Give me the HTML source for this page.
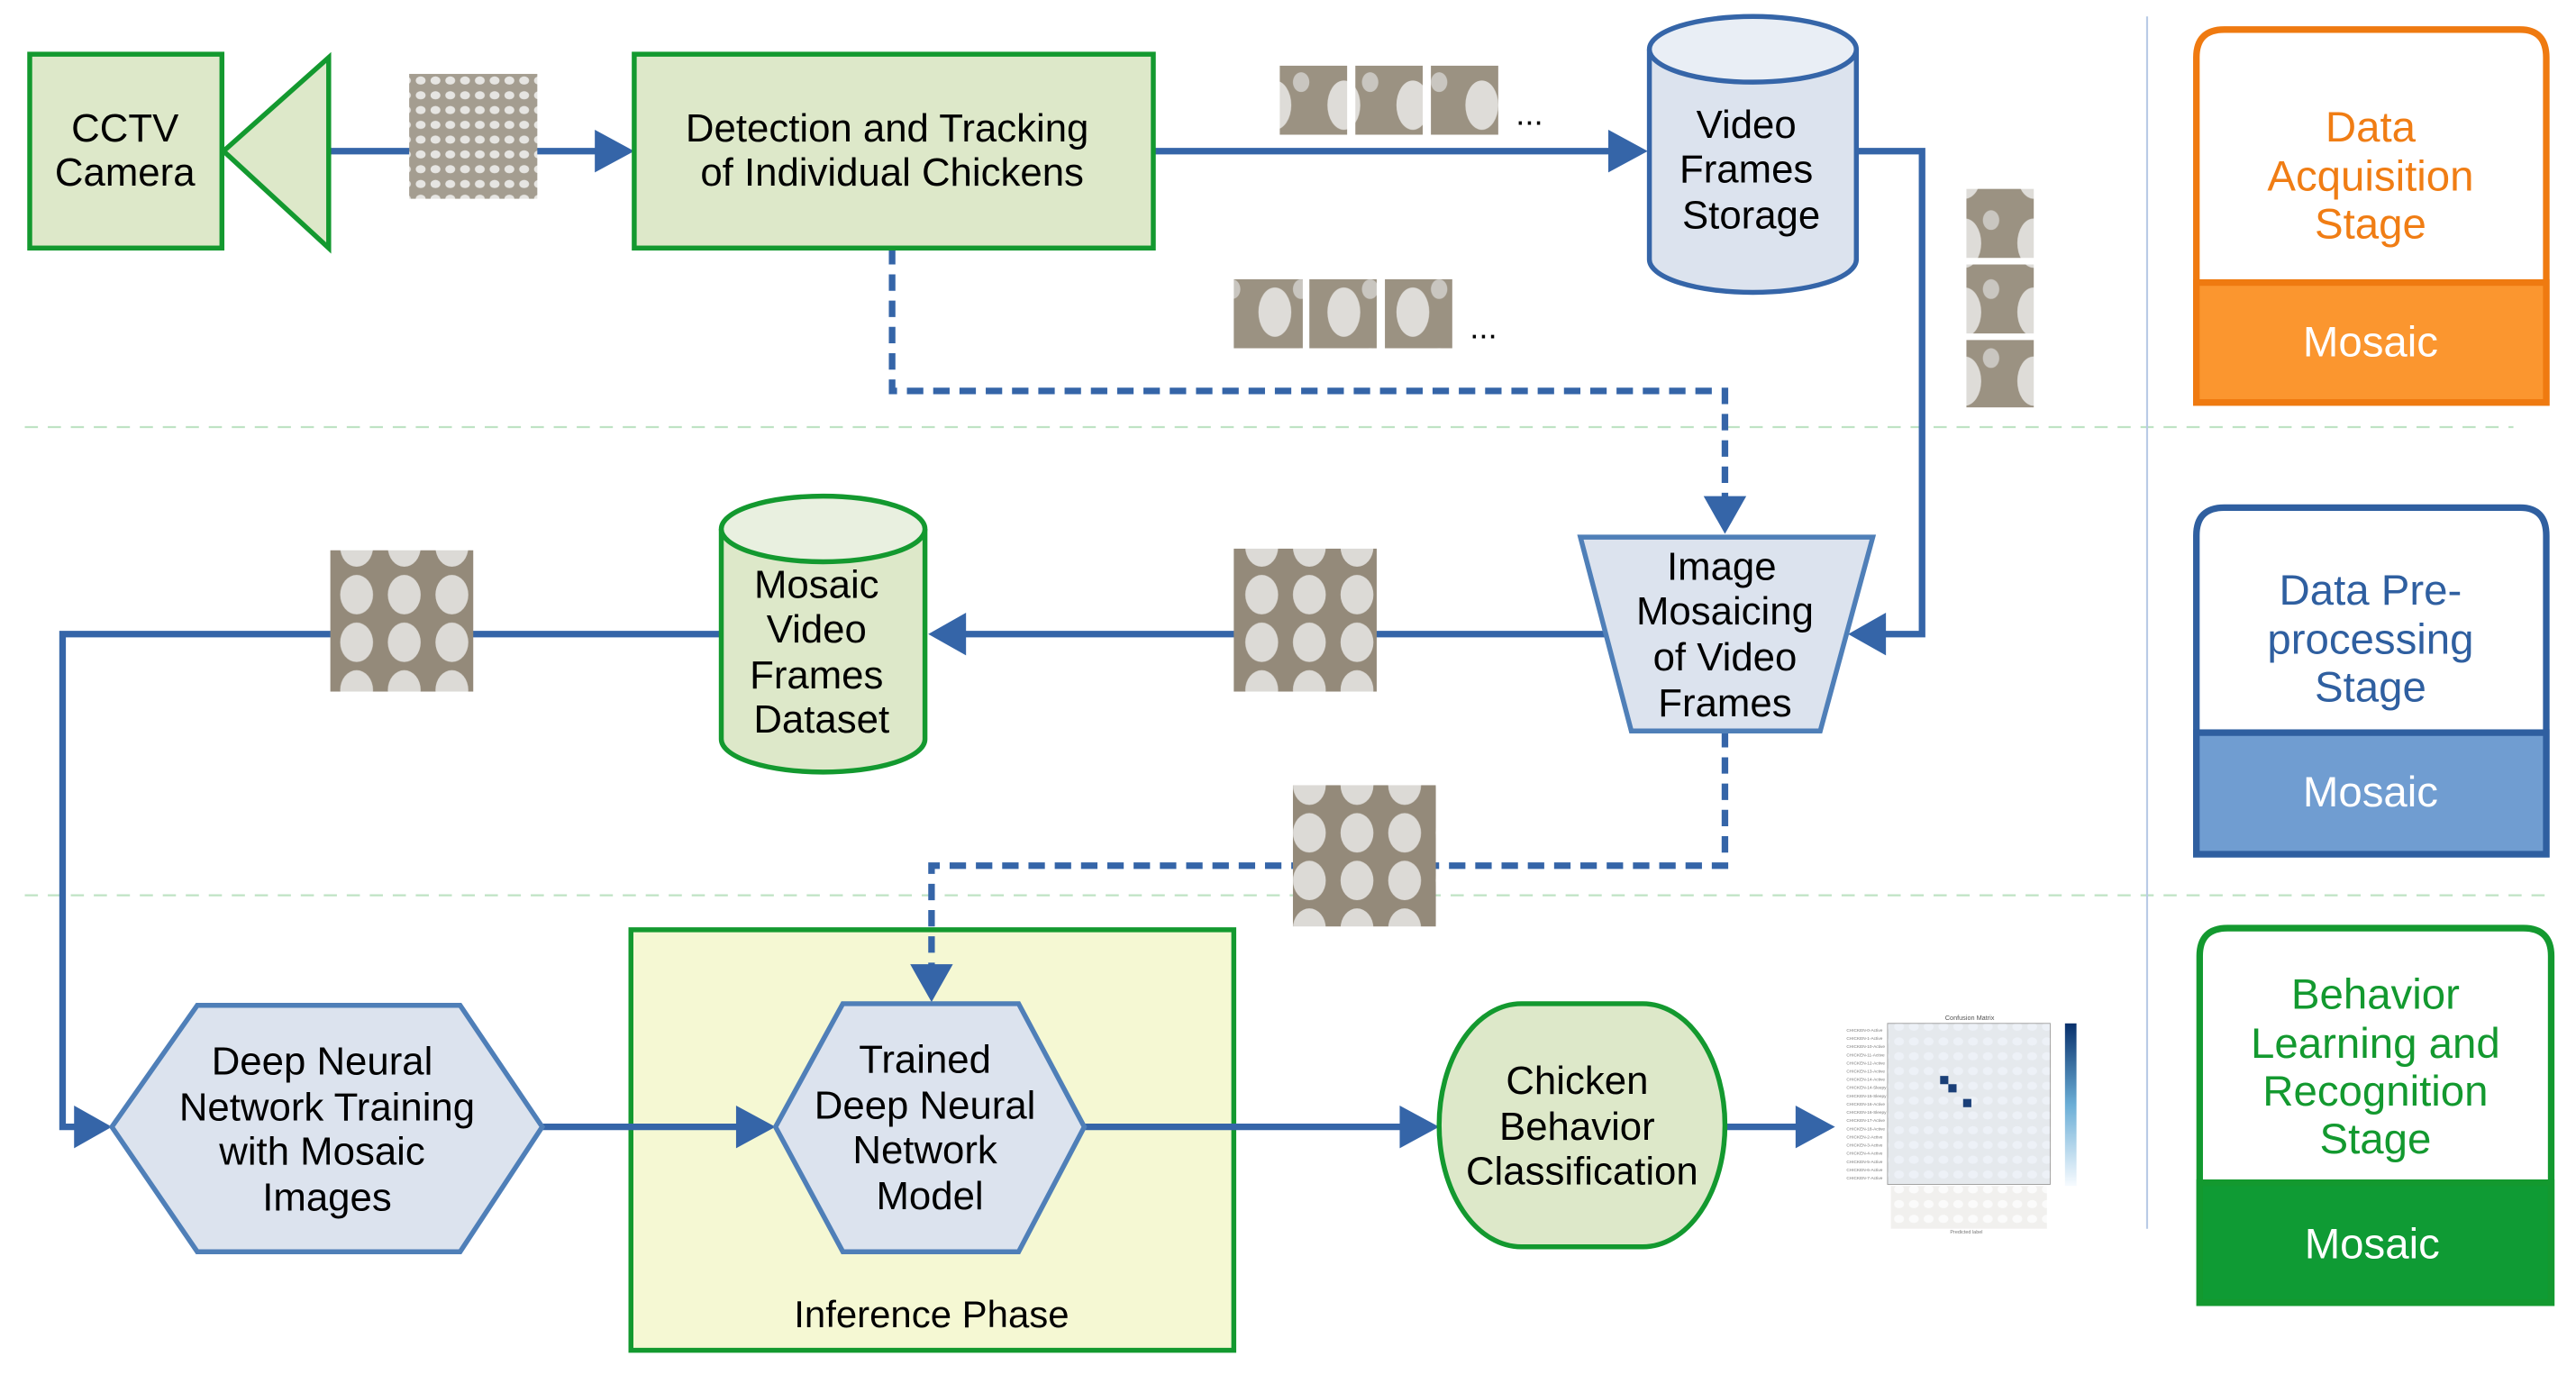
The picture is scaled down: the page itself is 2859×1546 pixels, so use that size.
<!DOCTYPE html>
<html><head><meta charset="utf-8"><style>
html,body{margin:0;padding:0;background:#fff}
svg{display:block}
text{font-family:"Liberation Sans",Arial,sans-serif}
</style></head><body>
<svg width="2859" height="1546" viewBox="0 0 1568 848" xmlns="http://www.w3.org/2000/svg">
<defs>
<pattern id="ph" width="42" height="42" patternUnits="userSpaceOnUse">
<rect width="42" height="42" fill="#9b9282"/>
<ellipse cx="20" cy="22" rx="10" ry="15" fill="#dedcd8"/>
<ellipse cx="36" cy="8" rx="5" ry="6" fill="#c9c6c0"/>
</pattern>
<pattern id="mo" width="29" height="29" patternUnits="userSpaceOnUse">
<rect width="29" height="29" fill="#948a7a"/>
<ellipse cx="14" cy="14" rx="10" ry="12" fill="#dcdad6"/>
</pattern>
<pattern id="ov" width="9" height="9" patternUnits="userSpaceOnUse">
<rect width="9" height="9" fill="#a49d90"/>
<ellipse cx="4" cy="4" rx="3" ry="2.5" fill="#e6e5e2"/>
</pattern>
<linearGradient id="cb" x1="0" y1="1" x2="0" y2="0"><stop offset="0" stop-color="#f7fbff"/><stop offset="0.5" stop-color="#6baed6"/><stop offset="1" stop-color="#08306b"/></linearGradient>
</defs>

<!-- separators -->
<line x1="15" y1="260" x2="1530" y2="260" stroke="#bfe3c4" stroke-width="1.2" stroke-dasharray="8,6"/>
<line x1="15" y1="545" x2="1550" y2="545" stroke="#bfe3c4" stroke-width="1.2" stroke-dasharray="8,6"/>
<line x1="1307" y1="10" x2="1307" y2="748" stroke="#b9cbe6" stroke-width="1.2"/>

<!-- inference phase box -->
<rect x="384" y="566" width="367" height="256" fill="#f5f8d3" stroke="#13992f" stroke-width="3"/>
<text x="567" y="808" font-size="23" text-anchor="middle" fill="#000">Inference Phase</text>

<g fill="none" stroke="#3565a8" stroke-width="4">
<line x1="200" y1="92" x2="368" y2="92"/>
<line x1="702" y1="92" x2="985" y2="92"/>
<polyline points="1131,92 1170,92 1170,386 1143,386"/>
<polyline points="543,151 543,238 1050,238 1050,307" stroke-dasharray="10,6"/>
<line x1="980" y1="386" x2="583" y2="386"/>
<polyline points="439,386 38,386 38,686 50,686"/>
<polyline points="1050,445 1050,527 567,527 567,592" stroke-dasharray="10,6"/>
<line x1="330" y1="686" x2="453" y2="686"/>
<line x1="660" y1="686" x2="857" y2="686"/>
<line x1="1050" y1="686" x2="1098" y2="686"/>
</g>
<g fill="#3565a8">
<polygon points="386,92 362,79 362,105"/>
<polygon points="1003,92 979,79 979,105"/>
<polygon points="1125,386 1148,373 1148,399"/>
<polygon points="1050,325 1037,302 1063,302"/>
<polygon points="565,386 588,373 588,399"/>
<polygon points="68,686 45,673 45,699"/>
<polygon points="567,610 554,587 580,587"/>
<polygon points="472,686 448,673 448,699"/>
<polygon points="876,686 852,673 852,699"/>
<polygon points="1117,686 1093,673 1093,699"/>
</g>

<!-- CCTV -->
<rect x="18" y="33" width="117" height="118" fill="#dde8c9" stroke="#13992f" stroke-width="3"/>
<polygon points="136,92 200,35 200,151" fill="#dde8c9" stroke="#13992f" stroke-width="3"/>
<text x="76" y="86" font-size="24" text-anchor="middle">CCTV</text>
<text x="76" y="113" font-size="24" text-anchor="middle">Camera</text>
<rect x="249" y="45" width="78" height="76" fill="url(#ov)"/>

<!-- detection -->
<rect x="386" y="33" width="316" height="118" fill="#dde8c9" stroke="#13992f" stroke-width="3"/>
<text x="540" y="86" font-size="24" text-anchor="middle">Detection and Tracking</text>
<text x="543" y="113" font-size="24" text-anchor="middle">of Individual Chickens</text>

<!-- small frames -->
<rect x="779" y="40" width="41" height="42" fill="url(#ph)"/>
<rect x="825" y="40" width="41" height="42" fill="url(#ph)"/>
<rect x="871" y="40" width="41" height="42" fill="url(#ph)"/>
<text x="931" y="76" font-size="20" text-anchor="middle">...</text>
<rect x="751" y="170" width="42" height="42" fill="url(#ph)"/>
<rect x="797" y="170" width="41" height="42" fill="url(#ph)"/>
<rect x="843" y="170" width="41" height="42" fill="url(#ph)"/>
<text x="903" y="206" font-size="20" text-anchor="middle">...</text>
<rect x="1197" y="115" width="41" height="42" fill="url(#ph)"/>
<rect x="1197" y="161" width="41" height="42" fill="url(#ph)"/>
<rect x="1197" y="207" width="41" height="41" fill="url(#ph)"/>

<!-- Video frames storage cylinder -->
<path d="M1004,30 L1004,158 A63,20 0 0 0 1130,158 L1130,30" fill="#dce3ee" stroke="#3565a8" stroke-width="3"/>
<ellipse cx="1067" cy="30" rx="63" ry="20" fill="#e9eef5" stroke="#3565a8" stroke-width="3"/>
<text x="1063" y="84" font-size="24" text-anchor="middle">Video</text>
<text x="1063" y="111" font-size="24" text-anchor="middle">Frames</text>
<text x="1066" y="139" font-size="24" text-anchor="middle">Storage</text>

<!-- Image mosaicing trapezoid -->
<polygon points="962,327 1140,327 1108,445 993,445" fill="#dce3ee" stroke="#4f7fb8" stroke-width="3"/>
<text x="1048" y="353" font-size="24" text-anchor="middle">Image</text>
<text x="1050" y="380" font-size="24" text-anchor="middle">Mosaicing</text>
<text x="1050" y="408" font-size="24" text-anchor="middle">of Video</text>
<text x="1050" y="436" font-size="24" text-anchor="middle">Frames</text>

<!-- mosaics -->
<rect x="751" y="334" width="87" height="87" fill="url(#mo)"/>
<rect x="201" y="335" width="87" height="86" fill="url(#mo)"/>
<rect x="787" y="478" width="87" height="86" fill="url(#mo)"/>

<!-- Mosaic dataset cylinder -->
<path d="M439,322 L439,450 A62,20 0 0 0 563,450 L563,322" fill="#dde8c9" stroke="#13992f" stroke-width="3"/>
<ellipse cx="501" cy="322" rx="62" ry="20" fill="#e9f0e0" stroke="#13992f" stroke-width="3"/>
<text x="497" y="364" font-size="24" text-anchor="middle">Mosaic</text>
<text x="497" y="391" font-size="24" text-anchor="middle">Video</text>
<text x="497" y="419" font-size="24" text-anchor="middle">Frames</text>
<text x="500" y="446" font-size="24" text-anchor="middle">Dataset</text>

<!-- hexagons -->
<polygon points="68,686 120,612 280,612 330,686 280,762 120,762" fill="#dce3ee" stroke="#4f7fb8" stroke-width="3"/>
<text x="196" y="654" font-size="24" text-anchor="middle">Deep Neural</text>
<text x="199" y="682" font-size="24" text-anchor="middle">Network Training</text>
<text x="196" y="709" font-size="24" text-anchor="middle">with Mosaic</text>
<text x="199" y="737" font-size="24" text-anchor="middle">Images</text>

<polygon points="472,686 513,611 620,611 660,686 620,762 513,762" fill="#dce3ee" stroke="#4f7fb8" stroke-width="3"/>
<text x="563" y="653" font-size="24" text-anchor="middle">Trained</text>
<text x="563" y="681" font-size="24" text-anchor="middle">Deep Neural</text>
<text x="563" y="708" font-size="24" text-anchor="middle">Network</text>
<text x="566" y="736" font-size="24" text-anchor="middle">Model</text>

<!-- chicken behavior -->
<rect x="876" y="611" width="174" height="148" rx="50" ry="74" fill="#dde8c9" stroke="#13992f" stroke-width="3"/>
<text x="960" y="666" font-size="24" text-anchor="middle">Chicken</text>
<text x="960" y="694" font-size="24" text-anchor="middle">Behavior</text>
<text x="963" y="721" font-size="24" text-anchor="middle">Classification</text>

<!-- confusion matrix -->
<g>
<text x="1199" y="621" font-size="4" text-anchor="middle" fill="#555">Confusion Matrix</text>
<rect x="1149" y="623" width="99" height="98" fill="#eef3fa" stroke="#999" stroke-width="0.5"/>
<rect x="1149" y="623" width="99" height="98" fill="url(#ov)" opacity="0.12"/>
<g fill="#1a3f78">
<rect x="1181" y="655" width="5" height="5"/><rect x="1186" y="660" width="5" height="5"/><rect x="1195" y="669" width="5" height="5"/>
</g>
<g font-size="2.6" fill="#777">
<text x="1124" y="628">CHICKEN-0-Active</text><text x="1124" y="633">CHICKEN-1-Active</text><text x="1124" y="638">CHICKEN-10-Active</text><text x="1124" y="643">CHICKEN-11-Active</text><text x="1124" y="648">CHICKEN-12-Active</text><text x="1124" y="653">CHICKEN-13-Active</text><text x="1124" y="658">CHICKEN-14-Active</text><text x="1124" y="663">CHICKEN-14-Sleepy</text><text x="1124" y="668">CHICKEN-15-Sleepy</text><text x="1124" y="673">CHICKEN-16-Active</text><text x="1124" y="678">CHICKEN-16-Sleepy</text><text x="1124" y="683">CHICKEN-17-Active</text><text x="1124" y="688">CHICKEN-18-Active</text><text x="1124" y="693">CHICKEN-2-Active</text><text x="1124" y="698">CHICKEN-3-Active</text><text x="1124" y="703">CHICKEN-4-Active</text><text x="1124" y="708">CHICKEN-5-Active</text><text x="1124" y="713">CHICKEN-6-Active</text><text x="1124" y="718">CHICKEN-7-Active</text>
</g>
<rect x="1151" y="722" width="95" height="26" fill="url(#ov)" opacity="0.15"/>
<text x="1197" y="751" font-size="3" text-anchor="middle" fill="#777">Predicted label</text>
<rect x="1257" y="623" width="7" height="99" fill="url(#cb)"/>
</g>

<!-- Legend: orange -->
<path d="M1337,245 L1337,35 Q1337,18 1354,18 L1534,18 Q1550,18 1550,35 L1550,245 Z" fill="#fff" stroke="#ef7a10" stroke-width="4"/>
<rect x="1337" y="172" width="213" height="73" fill="#fb962f" stroke="#ef7a10" stroke-width="4"/>
<text x="1443" y="86" font-size="26" text-anchor="middle" fill="#f07d14">Data</text>
<text x="1443" y="116" font-size="26" text-anchor="middle" fill="#f07d14">Acquisition</text>
<text x="1443" y="145" font-size="26" text-anchor="middle" fill="#f07d14">Stage</text>
<text x="1443" y="217" font-size="26" text-anchor="middle" fill="#fff">Mosaic</text>

<!-- Legend: blue -->
<path d="M1337,520 L1337,326 Q1337,309 1354,309 L1534,309 Q1550,309 1550,326 L1550,520 Z" fill="#fff" stroke="#2f5fa0" stroke-width="4"/>
<rect x="1337" y="446" width="213" height="74" fill="#709dd1" stroke="#2f5fa0" stroke-width="4"/>
<text x="1443" y="368" font-size="26" text-anchor="middle" fill="#2f5fa0">Data Pre-</text>
<text x="1443" y="398" font-size="26" text-anchor="middle" fill="#2f5fa0">processing</text>
<text x="1443" y="427" font-size="26" text-anchor="middle" fill="#2f5fa0">Stage</text>
<text x="1443" y="491" font-size="26" text-anchor="middle" fill="#fff">Mosaic</text>

<!-- Legend: green -->
<path d="M1339,793 L1339,582 Q1339,565 1356,565 L1536,565 Q1553,565 1553,582 L1553,793 Z" fill="#fff" stroke="#13992f" stroke-width="4"/>
<rect x="1339" y="720" width="214" height="73" fill="#0f9b34" stroke="#13992f" stroke-width="4"/>
<text x="1446" y="614" font-size="26" text-anchor="middle" fill="#13992f">Behavior</text>
<text x="1446" y="644" font-size="26" text-anchor="middle" fill="#13992f">Learning and</text>
<text x="1446" y="673" font-size="26" text-anchor="middle" fill="#13992f">Recognition</text>
<text x="1446" y="702" font-size="26" text-anchor="middle" fill="#13992f">Stage</text>
<text x="1444" y="766" font-size="26" text-anchor="middle" fill="#fff">Mosaic</text>
</svg>
</body></html>
